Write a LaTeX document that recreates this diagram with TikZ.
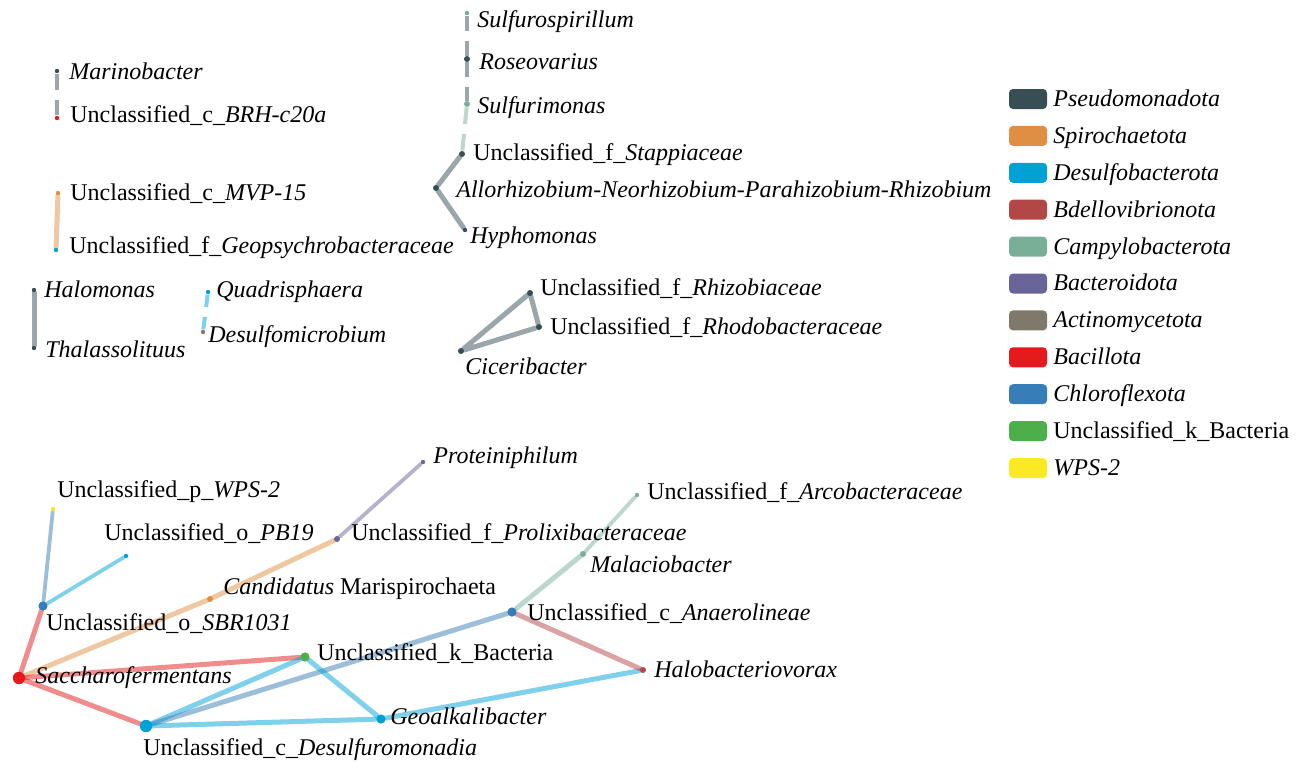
\documentclass[tikz,border=0pt]{standalone}
\usepackage{fontspec}
\setmainfont{Liberation Serif}
\usepackage{xcolor}
\definecolor{cPseudo}{HTML}{374E55}
\definecolor{cSpiro}{HTML}{DF8F44}
\definecolor{cDesulfo}{HTML}{00A1D5}
\definecolor{cBdello}{HTML}{B24745}
\definecolor{cCampy}{HTML}{79AF97}
\definecolor{cBactero}{HTML}{6A6599}
\definecolor{cActino}{HTML}{80796B}
\definecolor{cBacillo}{HTML}{E41A1C}
\definecolor{cChloro}{HTML}{377EB8}
\definecolor{cUnBact}{HTML}{4DAF4A}
\definecolor{cWPS}{HTML}{FBEA23}
\usepackage{tikz}
\usetikzlibrary{calc,backgrounds}
\tikzset{
  net-dot/.style={circle,inner sep=0pt,minimum size=2.2pt},
  net-dot-s/.style={net-dot,minimum size=3pt},
  net-dot-m/.style={net-dot,minimum size=4.6pt},
  net-dot-l/.style={net-dot,minimum size=6.2pt},
  taxon/.style={anchor=west,inner sep=0pt,text height=9.4pt,text depth=2pt,
    font=\fontsize{12}{14}\selectfont},
  taxon-it/.style={taxon,font=\fontsize{12}{14}\selectfont\itshape},
  net-link/.style={line width=2.5pt,draw opacity=0.5,line cap=round},
  net-link-thin/.style={net-link,line width=1.9pt},
  net-link-gap/.style={net-link,line width=2pt,line cap=butt,shorten >=2.5pt},
  legend-box/.style={rounded corners=2pt,minimum width=19pt,minimum height=10pt,inner sep=0pt},
}

\begin{document}
\begin{tikzpicture}[x=0.5pt,y=-0.5pt]
  \useasboundingbox (0,0) rectangle (1301,761);

  % --- small components (top left)
  \node[net-dot,fill=cPseudo] (mar) at (57,71) {};
  \node[net-dot,fill=cBacillo] (brh) at (57,118) {};
  \node[taxon-it] (mar-t) at (69,72) {Marinobacter};
  \node[taxon] (brh-t) at (70,115) {Unclassified\_c\_\textit{BRH-c20a}};

  \node[net-dot,fill=cSpiro] (mvp) at (58,193) {};
  \node[net-dot,fill=cDesulfo] (geo) at (56,250) {};
  \node[taxon] (mvp-t) at (70,193) {Unclassified\_c\_\textit{MVP-15}};
  \node[taxon] (geo-t) at (69,246) {Unclassified\_f\_\textit{Geopsychrobacteraceae}};

  \node[net-dot,fill=cPseudo] (halo) at (34,290) {};
  \node[net-dot,fill=cPseudo] (thal) at (34,348) {};
  \node[taxon-it] (halo-t) at (44,290) {Halomonas};
  \node[taxon-it] (thal-t) at (45,350) {Thalassolituus};

  \node[net-dot,fill=cDesulfo] (quad) at (208,292) {};
  \node[net-dot,fill=cActino] (dmic) at (203,332) {};
  \node[taxon-it] (quad-t) at (216,290) {Quadrisphaera};
  \node[taxon-it] (dmic-t) at (208,335) {Desulfomicrobium};

  % --- chain and triangle (top middle)
  \node[net-dot,fill=cCampy] (sspi) at (467,13) {};
  \node[net-dot-s,fill=cPseudo] (roseo) at (467,59) {};
  \node[net-dot-s,fill=cCampy] (smon) at (467,104) {};
  \node[net-dot-s,fill=cPseudo] (stap) at (462,154) {};
  \node[net-dot-s,fill=cPseudo] (allo) at (436,188) {};
  \node[net-dot,fill=cPseudo] (hypho) at (465,230) {};
  \node[taxon-it] (sspi-t) at (477,20) {Sulfurospirillum};
  \node[taxon-it] (roseo-t) at (479,62) {Roseovarius};
  \node[taxon-it] (smon-t) at (477,106) {Sulfurimonas};
  \node[taxon] (stap-t) at (473,153) {Unclassified\_f\_\textit{Stappiaceae}};
  \node[taxon-it] (allo-t) at (456,190) {Allorhizobium-Neorhizobium-Parahizobium-Rhizobium};
  \node[taxon-it] (hypho-t) at (470,236) {Hyphomonas};

  \node[net-dot-s,fill=cPseudo] (rhizo) at (530,293) {};
  \node[net-dot-s,fill=cPseudo] (rhodo) at (539,327) {};
  \node[net-dot-s,fill=cPseudo] (cice) at (461,351) {};
  \node[taxon] (rhizo-t) at (540,288) {Unclassified\_f\_\textit{Rhizobiaceae}};
  \node[taxon] (rhodo-t) at (550,327) {Unclassified\_f\_\textit{Rhodobacteraceae}};
  \node[taxon-it] (cice-t) at (465,367) {Ciceribacter};

  % --- main component (bottom)
  \node[net-dot,fill=cWPS] (wps) at (53,509) {};
  \node[net-dot,fill=cDesulfo] (pb19) at (126,556) {};
  \node[net-dot-m,fill=cChloro] (sbr) at (43,606) {};
  \node[net-dot-l,fill=cBacillo] (sacch) at (19,678) {};
  \node[net-dot-s,fill=cSpiro] (maris) at (210,599) {};
  \node[net-dot-s,fill=cBactero] (prolix) at (337,539) {};
  \node[net-dot,fill=cBactero] (protein) at (423,462) {};
  \node[net-dot-m,fill=cUnBact] (bact) at (305,657) {};
  \node[net-dot-l,fill=cDesulfo] (dfm) at (146,726) {};
  \node[net-dot-m,fill=cDesulfo] (geoalk) at (381,719) {};
  \node[net-dot-m,fill=cChloro] (anaero) at (512,612) {};
  \node[net-dot-s,fill=cCampy] (malacio) at (583,554) {};
  \node[net-dot,fill=cCampy] (arco) at (637,495) {};
  \node[net-dot-s,fill=cBdello] (halob) at (643,670) {};

  \node[taxon] (wps-t) at (57,490) {Unclassified\_p\_\textit{WPS-2}};
  \node[taxon] (pb19-t) at (104,533) {Unclassified\_o\_\textit{PB19}};
  \node[taxon] (sbr-t) at (46,623) {Unclassified\_o\_\textit{SBR1031}};
  \node[taxon-it] (sacch-t) at (35,676) {Saccharofermentans};
  \node[taxon] (maris-t) at (223,587) {\textit{Candidatus} Marispirochaeta};
  \node[taxon] (prolix-t) at (351,533) {Unclassified\_f\_\textit{Prolixibacteraceae}};
  \node[taxon-it] (protein-t) at (433,456) {Proteiniphilum};
  \node[taxon] (bact-t) at (317,653) {Unclassified\_k\_Bacteria};
  \node[taxon] (dfm-t) at (143,748) {Unclassified\_c\_\textit{Desulfuromonadia}};
  \node[taxon-it] (geoalk-t) at (390,717) {Geoalkalibacter};
  \node[taxon] (arco-t) at (647,492) {Unclassified\_f\_\textit{Arcobacteraceae}};
  \node[taxon-it] (malacio-t) at (590,565) {Malaciobacter};
  \node[taxon] (anaero-t) at (527,613) {Unclassified\_c\_\textit{Anaerolineae}};
  \node[taxon-it] (halob-t) at (654,670) {Halobacteriovorax};

  % --- links
  \begin{scope}[on background layer]
    \foreach \a/\b/\c in {mar/brh/cPseudo, quad/dmic/cDesulfo, sspi/roseo/cPseudo,
        roseo/smon/cPseudo, smon/stap/cCampy} {
      \draw[net-link-gap,draw=\c] (\a) -- ($(\a)!.5!(\b)$);
      \draw[net-link-gap,draw=\c] (\b) -- ($(\a)!.5!(\b)$);
    }
    \draw[net-link,draw=cSpiro] (mvp) -- (geo);
    \draw[net-link,draw=cPseudo] (halo) -- (thal);
    \draw[net-link,draw=cPseudo] (stap) -- (allo) -- (hypho);
    \draw[net-link,draw=cPseudo] (cice) -- (rhizo) -- (rhodo) -- (cice);

    \draw[net-link,draw=cBacillo] (sacch) -- (sbr);
    \draw[net-link-thin,draw=cChloro] (sbr) -- (wps);
    \draw[net-link-thin,draw=cDesulfo] (sbr) -- (pb19);
    \draw[net-link,draw=cSpiro] (sacch) -- (maris);
    \draw[net-link,draw=cSpiro] (maris) -- (prolix);
    \draw[net-link-thin,draw=cBactero] (prolix) -- (protein);
    \draw[net-link,draw=cBacillo] (sacch) -- (bact);
    \draw[net-link,draw=cBacillo] (sacch) -- (dfm);
    \draw[net-link,draw=cDesulfo] (dfm) -- (bact);
    \draw[net-link,draw=cChloro] (dfm) -- (anaero);
    \draw[net-link,draw=cDesulfo] (dfm) -- (geoalk);
    \draw[net-link,draw=cDesulfo] (bact) -- (geoalk);
    \draw[net-link,draw=cDesulfo] (geoalk) -- (halob);
    \draw[net-link,draw=cBdello] (anaero) -- (halob);
    \draw[net-link,draw=cCampy] (anaero) -- (malacio);
    \draw[net-link-thin,draw=cCampy] (malacio) -- (arco);
  \end{scope}

  % --- legend
  \foreach \col/\txt [count=\i from 0] in {cPseudo/\textit{Pseudomonadota},
      cSpiro/\textit{Spirochaetota}, cDesulfo/\textit{Desulfobacterota},
      cBdello/\textit{Bdellovibrionota}, cCampy/\textit{Campylobacterota},
      cBactero/\textit{Bacteroidota}, cActino/\textit{Actinomycetota},
      cBacillo/\textit{Bacillota}, cChloro/\textit{Chloroflexota},
      cUnBact/Unclassified\_k\_Bacteria, cWPS/\textit{WPS-2}} {
    \node[legend-box,fill=\col] (leg-\i) at (1028,{99+36.9*\i}) {};
    \node[taxon] (leg-\i-t) at (1053,{99+36.9*\i}) {\txt};
  }
\end{tikzpicture}
\end{document}
